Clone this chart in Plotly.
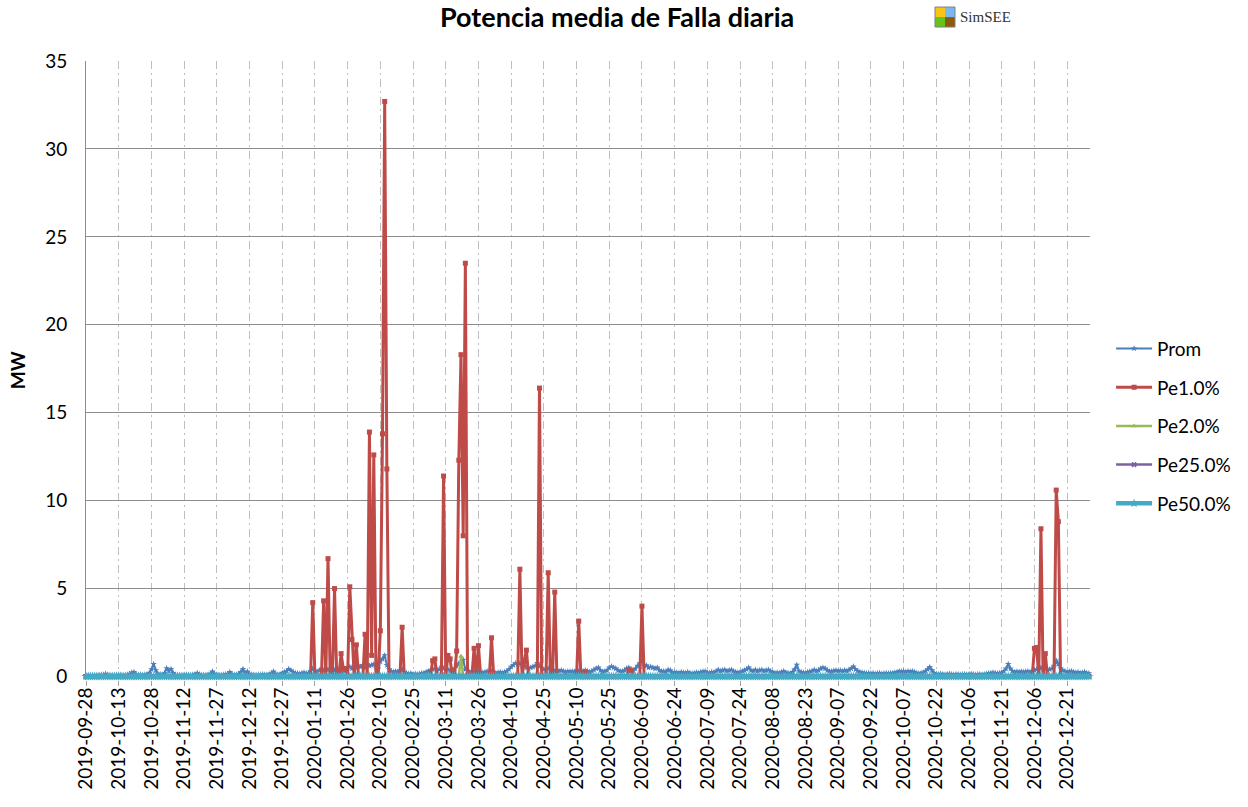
import pandas as pd
import plotly.graph_objects as go

START = "2019-09-28"
END = "2020-12-31"

# Prom (MW), one value per day, by month
PROM_2019_09 = [0.05, 0.05, 0.06]
PROM_2019_10 = [0.05, 0.06, 0.05, 0.07, 0.08, 0.1, 0.15, 0.08, 0.06, 0.05,
                0.06, 0.08, 0.1, 0.08, 0.06, 0.07, 0.1, 0.15, 0.22, 0.25,
                0.12, 0.08, 0.1, 0.08, 0.1, 0.12, 0.2, 0.4, 0.7, 0.35, 0.15]
PROM_2019_11 = [0.12, 0.1, 0.2, 0.47, 0.3, 0.42, 0.2, 0.1, 0.08, 0.07,
                0.06, 0.08, 0.1, 0.08, 0.07, 0.1, 0.12, 0.2, 0.12, 0.08,
                0.07, 0.06, 0.1, 0.15, 0.28, 0.15, 0.1, 0.08, 0.07, 0.1]
PROM_2019_12 = [0.12, 0.15, 0.25, 0.12, 0.08, 0.1, 0.15, 0.25, 0.42, 0.2,
                0.28, 0.15, 0.1, 0.08, 0.07, 0.08, 0.1, 0.12, 0.1, 0.08,
                0.12, 0.18, 0.28, 0.15, 0.1, 0.12, 0.2, 0.25, 0.3, 0.42, 0.34]
PROM_2020_01 = [0.25, 0.2, 0.18, 0.15, 0.2, 0.22, 0.18, 0.2, 0.3, 0.45,
                0.3, 0.25, 0.35, 0.42, 0.3, 0.45, 0.38, 0.3, 0.4, 0.35,
                0.3, 0.4, 0.25, 0.3, 0.35, 0.5, 0.55, 0.45, 0.6, 0.5, 0.62]
PROM_2020_02 = [0.55, 0.65, 0.5, 0.7, 0.6, 0.65, 0.7, 0.55, 0.6, 0.85,
                1.0, 1.2, 0.65, 0.4, 0.3, 0.25, 0.3, 0.25, 0.35, 0.4,
                0.25, 0.2, 0.15, 0.18, 0.12, 0.15, 0.12, 0.15, 0.2]
PROM_2020_03 = [0.2, 0.25, 0.3, 0.35, 0.4, 0.45, 0.35, 0.4, 0.55, 0.45,
                0.35, 0.4, 0.3, 0.35, 0.45, 0.6, 0.75, 0.6, 0.95, 0.4,
                0.3, 0.25, 0.3, 0.28, 0.3, 0.25, 0.2, 0.22, 0.25, 0.3, 0.28]
PROM_2020_04 = [0.3, 0.25, 0.2, 0.22, 0.25, 0.2, 0.25, 0.3, 0.4, 0.55,
                0.65, 0.75, 0.7, 0.75, 0.6, 0.7, 0.5, 0.45, 0.5, 0.55,
                0.6, 0.76, 0.6, 0.45, 0.4, 0.35, 0.45, 0.4, 0.35, 0.3]
PROM_2020_05 = [0.35, 0.3, 0.35, 0.3, 0.25, 0.3, 0.28, 0.3, 0.25, 0.35,
                0.3, 0.25, 0.3, 0.35, 0.3, 0.25, 0.3, 0.38, 0.45, 0.5,
                0.35, 0.25, 0.3, 0.35, 0.5, 0.57, 0.5, 0.45, 0.35, 0.3, 0.3]
PROM_2020_06 = [0.35, 0.45, 0.5, 0.4, 0.3, 0.45, 0.6, 0.75, 0.95, 0.6,
                0.63, 0.5, 0.55, 0.5, 0.45, 0.5, 0.35, 0.3, 0.3, 0.25,
                0.38, 0.35, 0.2, 0.25, 0.22, 0.2, 0.25, 0.22, 0.2, 0.25]
PROM_2020_07 = [0.2, 0.18, 0.2, 0.22, 0.2, 0.25, 0.28, 0.3, 0.22, 0.2,
                0.25, 0.22, 0.3, 0.38, 0.3, 0.35, 0.38, 0.3, 0.35, 0.38,
                0.3, 0.25, 0.22, 0.25, 0.3, 0.35, 0.4, 0.5, 0.35, 0.3, 0.38]
PROM_2020_08 = [0.3, 0.35, 0.38, 0.3, 0.35, 0.38, 0.3, 0.25, 0.2, 0.22,
                0.2, 0.25, 0.3, 0.22, 0.2, 0.18, 0.25, 0.4, 0.66, 0.3,
                0.25, 0.22, 0.2, 0.25, 0.28, 0.3, 0.38, 0.3, 0.35, 0.45, 0.5]
PROM_2020_09 = [0.45, 0.35, 0.3, 0.28, 0.32, 0.35, 0.3, 0.34, 0.3, 0.35,
                0.3, 0.38, 0.45, 0.57, 0.4, 0.3, 0.25, 0.22, 0.2, 0.18,
                0.2, 0.18, 0.2, 0.15, 0.18, 0.2, 0.15, 0.18, 0.2, 0.18]
PROM_2020_10 = [0.2, 0.18, 0.22, 0.25, 0.3, 0.28, 0.3, 0.25, 0.3, 0.28,
                0.3, 0.25, 0.2, 0.18, 0.2, 0.22, 0.3, 0.4, 0.53, 0.35,
                0.2, 0.15, 0.12, 0.15, 0.12, 0.1, 0.12, 0.15, 0.12, 0.1, 0.12]
PROM_2020_11 = [0.12, 0.1, 0.12, 0.13, 0.1, 0.12, 0.15, 0.12, 0.1, 0.13,
                0.12, 0.1, 0.12, 0.15, 0.18, 0.2, 0.22, 0.2, 0.18, 0.2,
                0.22, 0.3, 0.45, 0.7, 0.45, 0.3, 0.25, 0.28, 0.25, 0.28]
PROM_2020_12 = [0.25, 0.28, 0.3, 0.25, 0.3, 0.35, 0.4, 0.35, 0.5, 0.4,
                0.45, 0.35, 0.4, 0.45, 0.6, 0.9, 0.7, 0.45, 0.35, 0.3,
                0.25, 0.28, 0.3, 0.25, 0.22, 0.25, 0.2, 0.22, 0.25, 0.2, 0.18]

# Pe1.0% (MW): days with non-zero values, zero otherwise
PE1_DATES = [
    "2020-01-10", "2020-01-15", "2020-01-17", "2020-01-20", "2020-01-23",
    "2020-01-24", "2020-01-25", "2020-01-27", "2020-01-28", "2020-01-30",
    "2020-02-03", "2020-02-05", "2020-02-06", "2020-02-07", "2020-02-10",
    "2020-02-11", "2020-02-12", "2020-02-13", "2020-02-20",
    "2020-03-05", "2020-03-06", "2020-03-10", "2020-03-12", "2020-03-13",
    "2020-03-16", "2020-03-17", "2020-03-18", "2020-03-19", "2020-03-20",
    "2020-03-24", "2020-03-26", "2020-04-01",
    "2020-04-14", "2020-04-16", "2020-04-17", "2020-04-23", "2020-04-27",
    "2020-04-30", "2020-05-11", "2020-05-14",
    "2020-06-03", "2020-06-04", "2020-06-09",
    "2020-12-06", "2020-12-07", "2020-12-09", "2020-12-11", "2020-12-16",
    "2020-12-17",
]
PE1_VALUES = [
    4.2, 4.3, 6.7, 5.0, 1.3,
    0.45, 0.45, 5.1, 2.1, 1.8,
    2.4, 13.9, 1.2, 12.6, 2.6,
    13.8, 32.7, 11.8, 2.8,
    0.9, 1.0, 11.4, 1.2, 1.0,
    1.45, 12.3, 18.3, 8.0, 23.5,
    1.6, 1.75, 2.2,
    6.1, 0.9, 1.5, 16.4, 5.9,
    4.8, 3.15, 0.25,
    0.35, 0.35, 4.0,
    1.6, 1.65, 8.4, 1.3, 10.6,
    8.8,
]

# Pe2.0% (MW)
PE2_DATES = ["2020-03-18"]
PE2_VALUES = [1.15]

SERIES_NAMES = ["Prom", "Pe1.0%", "Pe2.0%", "Pe25.0%", "Pe50.0%"]
COLORS = ["#4a7ebb", "#be4b48", "#98b954", "#7d60a0", "#46aac5"]
SYMBOLS = ["star", "square", "triangle-up", "x", "star"]

FONT = "Lato, Calibri, sans-serif"

dates = pd.date_range(START, END, freq="D")
prom = (PROM_2019_09 + PROM_2019_10 + PROM_2019_11 + PROM_2019_12
        + PROM_2020_01 + PROM_2020_02 + PROM_2020_03 + PROM_2020_04
        + PROM_2020_05 + PROM_2020_06 + PROM_2020_07 + PROM_2020_08
        + PROM_2020_09 + PROM_2020_10 + PROM_2020_11 + PROM_2020_12)


def daily(day_list, values):
    s = pd.Series(0.0, index=dates)
    s.loc[pd.to_datetime(day_list)] = values
    return s.values


series = [
    prom,
    daily(PE1_DATES, PE1_VALUES),
    daily(PE2_DATES, PE2_VALUES),
    daily([], []),
    daily([], []),
]
widths = [2, 3, 2.5, 2.5, 4.5]
sizes = [5, 5, 5, 5, 7]

fig = go.Figure()
for i, name in enumerate(SERIES_NAMES):
    fig.add_trace(go.Scatter(
        x=dates, y=series[i], name=name, mode="lines+markers",
        legendgroup=name,
        line=dict(color=COLORS[i], width=widths[i]),
        marker=dict(symbol=SYMBOLS[i], size=sizes[i], color=COLORS[i],
                    line=dict(width=0, color=COLORS[i])),
        cliponaxis=False,
    ))

fig.update_layout(
    width=1248, height=807,
    paper_bgcolor="white", plot_bgcolor="white",
    font=dict(family=FONT, size=17, color="black"),
    margin=dict(l=86, r=158, t=61, b=127),
    title=dict(text="<b>Potencia media de Falla diaria</b>",
               x=0.529, xref="paper", xanchor="center",
               y=1 - 18 / 807, yanchor="middle",
               font=dict(family=FONT, size=27, color="black")),
    showlegend=True,
    legend=dict(x=1.021, xanchor="left", y=0.566, yanchor="top",
                font=dict(family=FONT, size=19, color="black"),
                itemwidth=36, tracegroupgap=11, bgcolor="rgba(0,0,0,0)"),
    xaxis=dict(
        type="date",
        range=["2019-09-28", "2020-12-31 12:00"],
        tick0="2019-09-28", dtick=15 * 86400000,
        tickformat="%Y-%m-%d", tickangle=-90,
        ticks="outside", ticklen=5, tickcolor="#a0a0a0",
        ticklabelstandoff=-6,
        showgrid=True, gridcolor="#bfbfbf", gridwidth=1,
        griddash="8px,4px,2px,4px",
        showline=False, zeroline=False,
        tickfont=dict(family=FONT, size=19, color="black"),
    ),
    yaxis=dict(
        range=[-0.2, 35], tickvals=[0, 5, 10, 15, 20, 25, 30, 35],
        showgrid=True, gridcolor="#8c8c8c", gridwidth=1,
        showline=True, linecolor="#8c8c8c", linewidth=1,
        zeroline=False, ticks="", ticklabelstandoff=14,
        tickfont=dict(family=FONT, size=19, color="black"),
    ),
)

fig.add_annotation(
    text="<b>MW</b>", textangle=-90, showarrow=False,
    xref="paper", yref="paper", x=-0.068, y=0.5,
    xanchor="center", yanchor="middle",
    font=dict(family=FONT, size=19, color="black"),
)


# SimSEE logo, placed by reference-pixel position
def px_x(p):
    return (p - 86) / 1004


def px_y(p):
    return (680.5 - p) / 619.5


logo = [(935, 7, "#f5c518"), (945, 7, "#7ab8f0"),
        (935, 17, "#66c21c"), (945, 17, "#8b5a0a")]
for x0, y0, c in logo:
    fig.add_shape(type="rect", xref="paper", yref="paper",
                  x0=px_x(x0), x1=px_x(x0 + 10), y0=px_y(y0), y1=px_y(y0 + 10),
                  fillcolor=c, line=dict(width=0))
fig.add_shape(type="rect", xref="paper", yref="paper",
              x0=px_x(935), x1=px_x(955), y0=px_y(7), y1=px_y(27),
              line=dict(width=1, color="#808080"), fillcolor="rgba(0,0,0,0)")
fig.add_annotation(
    text="SimSEE", showarrow=False, xref="paper", yref="paper",
    x=px_x(958), y=px_y(17), xanchor="left", yanchor="middle",
    font=dict(family="Liberation Serif, serif", size=15, color="#333333"),
)

# drop the default page margin so the figure sits at the window corner
fig.write_html("out.html", config={"displayModeBar": False},
               post_script="document.body.style.margin = '0';")
